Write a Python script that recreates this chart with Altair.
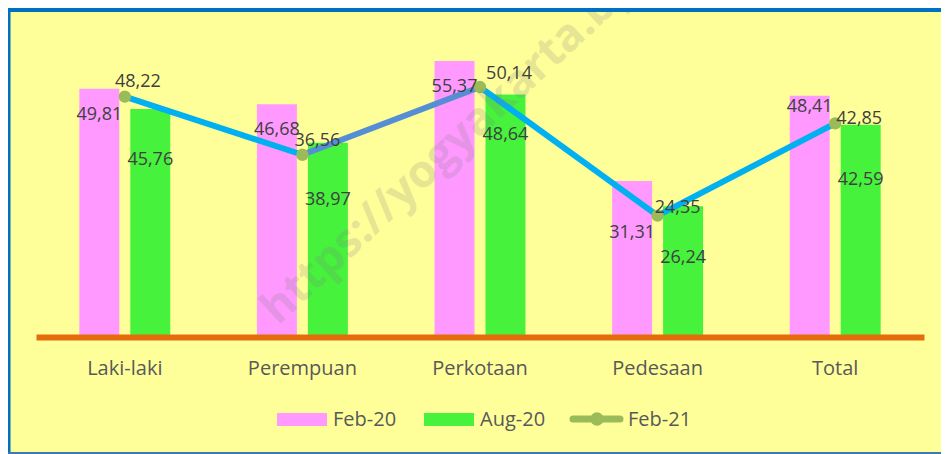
import altair as alt
import pandas as pd

# ---- data ----
categories = ["Laki-laki", "Perempuan", "Perkotaan", "Pedesaan", "Total"]
bar_series = ["Feb-20", "Aug-20"]
line_series = "Feb-21"
feb20 = [49.81, 46.68, 55.37, 31.31, 48.41]
aug20 = [45.76, 38.97, 48.64, 26.24, 42.59]
feb21 = [48.22, 36.56, 50.14, 24.35, 42.85]

# ---- label nudges (pixels, style only) ----
feb20_label_dy = [26, 26, 26, 52, 11]
aug20_label_dy = [51, 57, 40, 52, 55]
feb21_label_dx = [13, 15, 29, 20, 24]
feb21_label_dy = [-15, -14, -13, -8, -4]
segment_colors = ["#00B0F0", "#558ED5", "#00B0F0", "#00B0F0"]

PINK = "#FF99FF"
GREEN = "#46F23C"
OLIVE = "#9BBB59"
ORANGE = "#E46C0A"
BG = "#FFFF99"
BORDER = "#0070C0"
LABEL_C = "#404040"
AXIS_C = "#595959"
FONT = "Open Sans"

PLOT_W = 888
PLOT_H = 329
PAD_L = 28
PAD_R = 17
PAD_B = 117
Y_MAX = 66
HALF_BAND = PLOT_W / len(categories) / 2
UNITS_PER_PX = Y_MAX / PLOT_H


def fmt(v):
    return f"{v:.2f}".replace(".", ",")


rows = []
for i, c in enumerate(categories):
    rows.append({"category": c, "series": "Feb-20", "value": feb20[i],
                 "label": fmt(feb20[i]), "dy": feb20_label_dy[i]})
    rows.append({"category": c, "series": "Aug-20", "value": aug20[i],
                 "label": fmt(aug20[i]), "dy": aug20_label_dy[i]})
bars_df = pd.DataFrame(rows)

pts_df = pd.DataFrame({
    "category": categories,
    "value": feb21,
    "label": [fmt(v) for v in feb21],
    "dx": feb21_label_dx,
    "dy": feb21_label_dy,
})

seg_rows = []
for i in range(len(categories) - 1):
    for j in (i, i + 1):
        seg_rows.append({"category": categories[j], "value": feb21[j],
                         "seg": i, "color": segment_colors[i]})
seg_df = pd.DataFrame(seg_rows)

one = pd.DataFrame({"k": [0]})

x_axis = alt.Axis(title=None, labelAngle=0, labelFont=FONT, labelFontSize=20,
                  labelColor=AXIS_C, labelPadding=37, labelBaseline="alphabetic",
                  domainColor=ORANGE, domainWidth=6, ticks=False, grid=False,
                  zindex=1)
x_scale = alt.Scale(domain=categories, paddingInner=0, paddingOuter=0)
y_scale = alt.Scale(domain=[0, Y_MAX], nice=False, zero=True)
y_enc = alt.Y("value:Q", scale=y_scale, axis=None)
ylab_enc = alt.Y("label_pos:Q", scale=y_scale, axis=None)
xoff = alt.XOffset("series:N", sort=bar_series,
                   scale=alt.Scale(domain=bar_series, paddingInner=0.216,
                                   paddingOuter=0.85))
label_calc = f"datum.value - datum.dy * {UNITS_PER_PX}"

bars = alt.Chart(bars_df).mark_bar().encode(
    x=alt.X("category:N", sort=categories, scale=x_scale, axis=x_axis),
    xOffset=xoff,
    y=y_enc,
    color=alt.Color("series:N", scale=alt.Scale(domain=bar_series, range=[PINK, GREEN]),
                    legend=None),
)

bar_labels = alt.Chart(bars_df).transform_calculate(
    label_pos=label_calc
).mark_text(
    font=FONT, fontSize=18, color=LABEL_C, baseline="middle", align="center"
).encode(
    x=alt.X("category:N", sort=categories, scale=x_scale, axis=x_axis),
    xOffset=xoff,
    y=ylab_enc,
    text="label:N",
)

line = alt.Chart(seg_df).mark_line(strokeWidth=6).encode(
    x=alt.X("category:N", sort=categories, scale=x_scale, axis=x_axis),
    y=y_enc,
    detail="seg:N",
    color=alt.Color("color:N", scale=None),
)

points = alt.Chart(pts_df).mark_circle(size=154, opacity=1, color=OLIVE).encode(
    x=alt.X("category:N", sort=categories, scale=x_scale, axis=x_axis),
    y=y_enc,
)

pt_labels = alt.Chart(pts_df).transform_calculate(
    label_pos=label_calc
).mark_text(
    font=FONT, fontSize=18, color=LABEL_C, baseline="middle", align="center",
    dx=HALF_BAND
).encode(
    x=alt.X("category:N", sort=categories, scale=x_scale, axis=x_axis),
    xOffset=alt.XOffset("dx:Q", scale=None),
    y=ylab_enc,
    text="label:N",
)

watermark = alt.Chart(one).mark_text(
    text="https://yogyakarta.bps.go.id", font=FONT, fontSize=45, fontWeight="bold",
    color="#808080", opacity=0.2, angle=317, align="left", baseline="alphabetic"
).encode(x=alt.value(242), y=alt.value(318))

# ---- manual legend ----
leg_pink = alt.Chart(one).mark_rect(color=PINK).encode(
    x=alt.value(241), x2=alt.value(291), y=alt.value(405), y2=alt.value(418))
leg_pink_t = alt.Chart(one).mark_text(
    text="Feb-20", font=FONT, fontSize=20, color=AXIS_C, align="left",
    baseline="alphabetic").encode(x=alt.value(297), y=alt.value(418))
leg_green = alt.Chart(one).mark_rect(color=GREEN).encode(
    x=alt.value(388), x2=alt.value(438), y=alt.value(405), y2=alt.value(418))
leg_green_t = alt.Chart(one).mark_text(
    text="Aug-20", font=FONT, fontSize=20, color=AXIS_C, align="left",
    baseline="alphabetic").encode(x=alt.value(444), y=alt.value(418))
leg_line = alt.Chart(one).mark_rule(color=OLIVE, strokeWidth=7, strokeCap="round").encode(
    x=alt.value(537), x2=alt.value(584), y=alt.value(411))
leg_dot = alt.Chart(one).mark_circle(color=OLIVE, size=177, opacity=1).encode(
    x=alt.value(561), y=alt.value(411))
leg_line_t = alt.Chart(one).mark_text(
    text="Feb-21", font=FONT, fontSize=20, color=AXIS_C, align="left",
    baseline="alphabetic").encode(x=alt.value(592), y=alt.value(418))

# ---- frame ----
top_border = alt.Chart(one).mark_rule(color=BORDER, strokeWidth=5).encode(
    x=alt.value(-PAD_L), x2=alt.value(PLOT_W + PAD_R), y=alt.value(1.5))
left_border = alt.Chart(one).mark_rule(color=BORDER, strokeWidth=5).encode(
    x=alt.value(-PAD_L), y=alt.value(0), y2=alt.value(PLOT_H + PAD_B))
bottom_border = alt.Chart(one).mark_rule(color="#3C78B4", strokeWidth=2).encode(
    x=alt.value(-PAD_L), x2=alt.value(PLOT_W + PAD_R), y=alt.value(PLOT_H + PAD_B - 1))

chart = alt.layer(
    bars, line, points, watermark, bar_labels, pt_labels,
    leg_pink, leg_pink_t, leg_green, leg_green_t, leg_line, leg_dot, leg_line_t,
    top_border, left_border, bottom_border,
).properties(
    width=PLOT_W, height=PLOT_H,
    padding={"left": PAD_L, "top": 0, "right": PAD_R, "bottom": PAD_B},
    autosize=alt.AutoSizeParams(type="none"),
    background=BG,
).configure_view(strokeWidth=0)

chart.save("out.html", embed_options={"renderer": "svg", "actions": False})
